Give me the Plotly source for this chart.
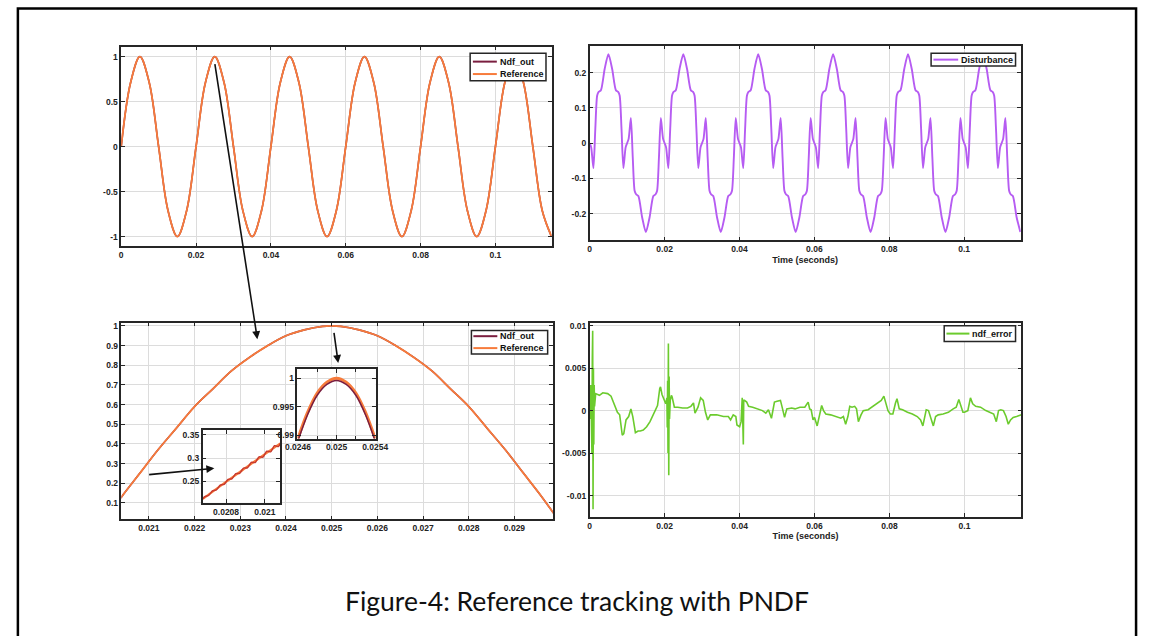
import plotly.graph_objects as go

W, H = 1152, 636

# ---------------- data ----------------
# Top-left: reference sine (Ndf_out overlaps it)
ref_top_t = [0.0000, 0.0025, 0.0050, 0.0075, 0.0100, 0.0125, 0.0150, 0.0175, 0.0200, 0.0225,
             0.0250, 0.0275, 0.0300, 0.0325, 0.0350, 0.0375, 0.0400, 0.0425, 0.0450, 0.0475,
             0.0500, 0.0525, 0.0550, 0.0575, 0.0600, 0.0625, 0.0650, 0.0675, 0.0700, 0.0725,
             0.0750, 0.0775, 0.0800, 0.0825, 0.0850, 0.0875, 0.0900, 0.0925, 0.0950, 0.0975,
             0.1000, 0.1025, 0.1050, 0.1075, 0.1100, 0.1125, 0.1150]
ref_top_v = [0, 0.71, 1, 0.71, 0, -0.71, -1, -0.71,
             0, 0.71, 1, 0.71, 0, -0.71, -1, -0.71,
             0, 0.71, 1, 0.71, 0, -0.71, -1, -0.71,
             0, 0.71, 1, 0.71, 0, -0.71, -1, -0.71,
             0, 0.71, 1, 0.71, 0, -0.71, -1, -0.71,
             0, 0.71, 1, 0.71, 0, -0.71, -1]
ndf_top_v = [0, 0.71, 1, 0.71, 0, -0.71, -1, -0.71,
             0, 0.71, 1, 0.71, 0, -0.71, -1, -0.71,
             0, 0.71, 1, 0.71, 0, -0.71, -1, -0.71,
             0, 0.71, 1, 0.71, 0, -0.71, -1, -0.71,
             0, 0.71, 1, 0.71, 0, -0.71, -1, -0.71,
             0, 0.71, 1, 0.71, 0, -0.71, -1]

# Top-right: disturbance
dist_t = [
    0.0000, 0.0004, 0.0010, 0.0015, 0.0020, 0.0024, 0.0030, 0.0040, 0.0050, 0.0060, 0.0070, 0.0076, 0.0080, 0.0085, 0.0090, 0.0096,
    0.0100, 0.0104, 0.0110, 0.0115, 0.0120, 0.0124, 0.0130, 0.0140, 0.0150, 0.0160, 0.0170, 0.0176, 0.0180, 0.0185, 0.0190, 0.0196,
    0.0200, 0.0204, 0.0210, 0.0215, 0.0220, 0.0224, 0.0230, 0.0240, 0.0250, 0.0260, 0.0270, 0.0276, 0.0280, 0.0285, 0.0290, 0.0296,
    0.0300, 0.0304, 0.0310, 0.0315, 0.0320, 0.0324, 0.0330, 0.0340, 0.0350, 0.0360, 0.0370, 0.0376, 0.0380, 0.0385, 0.0390, 0.0396,
    0.0400, 0.0404, 0.0410, 0.0415, 0.0420, 0.0424, 0.0430, 0.0440, 0.0450, 0.0460, 0.0470, 0.0476, 0.0480, 0.0485, 0.0490, 0.0496,
    0.0500, 0.0504, 0.0510, 0.0515, 0.0520, 0.0524, 0.0530, 0.0540, 0.0550, 0.0560, 0.0570, 0.0576, 0.0580, 0.0585, 0.0590, 0.0596,
    0.0600, 0.0604, 0.0610, 0.0615, 0.0620, 0.0624, 0.0630, 0.0640, 0.0650, 0.0660, 0.0670, 0.0676, 0.0680, 0.0685, 0.0690, 0.0696,
    0.0700, 0.0704, 0.0710, 0.0715, 0.0720, 0.0724, 0.0730, 0.0740, 0.0750, 0.0760, 0.0770, 0.0776, 0.0780, 0.0785, 0.0790, 0.0796,
    0.0800, 0.0804, 0.0810, 0.0815, 0.0820, 0.0824, 0.0830, 0.0840, 0.0850, 0.0860, 0.0870, 0.0876, 0.0880, 0.0885, 0.0890, 0.0896,
    0.0900, 0.0904, 0.0910, 0.0915, 0.0920, 0.0924, 0.0930, 0.0940, 0.0950, 0.0960, 0.0970, 0.0976, 0.0980, 0.0985, 0.0990, 0.0996,
    0.1000, 0.1004, 0.1010, 0.1015, 0.1020, 0.1024, 0.1030, 0.1040, 0.1050, 0.1060, 0.1070, 0.1076, 0.1080, 0.1085, 0.1090, 0.1096,
    0.1100, 0.1104, 0.1110, 0.1115, 0.1120, 0.1124, 0.1130, 0.1140, 0.1150]
dist_v = [
    0.000, -0.012, -0.071, 0.040, 0.135, 0.145, 0.150, 0.210, 0.252, 0.210, 0.150, 0.145, 0.135, 0.040, -0.071, -0.012,
    0.000, 0.012, 0.071, -0.040, -0.135, -0.145, -0.150, -0.210, -0.252, -0.210, -0.150, -0.145, -0.135, -0.040, 0.071, 0.012,
    0.000, -0.012, -0.071, 0.040, 0.135, 0.145, 0.150, 0.210, 0.252, 0.210, 0.150, 0.145, 0.135, 0.040, -0.071, -0.012,
    0.000, 0.012, 0.071, -0.040, -0.135, -0.145, -0.150, -0.210, -0.252, -0.210, -0.150, -0.145, -0.135, -0.040, 0.071, 0.012,
    0.000, -0.012, -0.071, 0.040, 0.135, 0.145, 0.150, 0.210, 0.252, 0.210, 0.150, 0.145, 0.135, 0.040, -0.071, -0.012,
    0.000, 0.012, 0.071, -0.040, -0.135, -0.145, -0.150, -0.210, -0.252, -0.210, -0.150, -0.145, -0.135, -0.040, 0.071, 0.012,
    0.000, -0.012, -0.071, 0.040, 0.135, 0.145, 0.150, 0.210, 0.252, 0.210, 0.150, 0.145, 0.135, 0.040, -0.071, -0.012,
    0.000, 0.012, 0.071, -0.040, -0.135, -0.145, -0.150, -0.210, -0.252, -0.210, -0.150, -0.145, -0.135, -0.040, 0.071, 0.012,
    0.000, -0.012, -0.071, 0.040, 0.135, 0.145, 0.150, 0.210, 0.252, 0.210, 0.150, 0.145, 0.135, 0.040, -0.071, -0.012,
    0.000, 0.012, 0.071, -0.040, -0.135, -0.145, -0.150, -0.210, -0.252, -0.210, -0.150, -0.145, -0.135, -0.040, 0.071, 0.012,
    0.000, -0.012, -0.071, 0.040, 0.135, 0.145, 0.150, 0.210, 0.252, 0.210, 0.150, 0.145, 0.135, 0.040, -0.071, -0.012,
    0.000, 0.012, 0.071, -0.040, -0.135, -0.145, -0.150, -0.210, -0.252]

# Bottom-left: zoom on one peak
zoom_t = [0.0200, 0.0204, 0.0208, 0.0212, 0.0216, 0.0220, 0.0224, 0.0228, 0.0232, 0.0236,
          0.0240, 0.0244, 0.0248, 0.0250, 0.0252, 0.0256, 0.0260, 0.0264, 0.0268, 0.0272,
          0.0276, 0.0280, 0.0284, 0.0288, 0.0292, 0.0296, 0.0300]
zoom_ref_v = [0.00, 0.13, 0.25, 0.37, 0.48, 0.59, 0.68, 0.77, 0.84, 0.90,
              0.95, 0.98, 0.998, 1.00, 0.998, 0.98, 0.95, 0.90, 0.84, 0.77,
              0.68, 0.59, 0.48, 0.37, 0.25, 0.13, 0.00]
zoom_ndf_v = [0.00, 0.13, 0.25, 0.37, 0.48, 0.59, 0.68, 0.77, 0.84, 0.90,
              0.95, 0.98, 0.998, 1.00, 0.998, 0.98, 0.95, 0.90, 0.84, 0.77,
              0.68, 0.59, 0.48, 0.37, 0.25, 0.13, 0.00]

# Inset 1 (rising edge, ripple of Ndf_out)
in1_ndf_t = [0.02068, 0.02069, 0.02070, 0.02071, 0.02072, 0.02073, 0.02074, 0.02075, 0.02076, 0.02077,
             0.02078, 0.02079, 0.02080, 0.02081, 0.02082, 0.02083, 0.02084, 0.02085, 0.02086, 0.02087,
             0.02088, 0.02089, 0.02090, 0.02091, 0.02092, 0.02093, 0.02094, 0.02095, 0.02096, 0.02097,
             0.02098, 0.02099, 0.02100, 0.02101, 0.02102, 0.02103, 0.02104, 0.02105, 0.02106, 0.02107,
             0.02108]
in1_ndf_v = [0.2120, 0.2167, 0.2181, 0.2195, 0.2243, 0.2291, 0.2304, 0.2315, 0.2365, 0.2416,
             0.2426, 0.2434, 0.2486, 0.2540, 0.2547, 0.2553, 0.2607, 0.2663, 0.2667, 0.2670,
             0.2727, 0.2785, 0.2787, 0.2788, 0.2847, 0.2908, 0.2906, 0.2904, 0.2966, 0.3028,
             0.3025, 0.3020, 0.3084, 0.3149, 0.3143, 0.3135, 0.3201, 0.3269, 0.3260, 0.3250,
             0.3318]
in1_ref_t = [0.02068, 0.02078, 0.02088, 0.02098, 0.02108]
in1_ref_v = [0.2120, 0.2426, 0.2727, 0.3025, 0.3318]

# Inset 2 (peak)
in2_t = [0.0246, 0.0247, 0.0248, 0.0249, 0.0250, 0.0251, 0.0252, 0.0253, 0.0254]
in2_ref_v = [0.9894, 0.9940, 0.9974, 0.9993, 1.0000, 0.9993, 0.9974, 0.9940, 0.9894]
in2_ndf_v = [0.9890, 0.9936, 0.9970, 0.9989, 0.9996, 0.9989, 0.9970, 0.9936, 0.9890]

# Bottom-right: tracking error
err_t = [0.0000, 0.0002, 0.0003, 0.0004, 0.0005, 0.0006, 0.0007, 0.0008, 0.0009, 0.0010,
         0.0011, 0.0012, 0.0013, 0.0016, 0.0022, 0.0026, 0.0035, 0.0048, 0.0057, 0.0065,
         0.0074, 0.0080, 0.0087, 0.0091, 0.0097, 0.0104, 0.0110, 0.0115, 0.0122, 0.0129,
         0.0135, 0.0143, 0.0152, 0.0161, 0.0170, 0.0176, 0.0181, 0.0187, 0.0189, 0.0193,
         0.0198, 0.0203, 0.0206, 0.0207, 0.0208, 0.0209, 0.0210, 0.0211, 0.0212, 0.0213,
         0.0215, 0.0218, 0.0220, 0.0226, 0.0235, 0.0248, 0.0261, 0.0270, 0.0277, 0.0281,
         0.0289, 0.0296, 0.0303, 0.0309, 0.0315, 0.0322, 0.0339, 0.0357, 0.0370, 0.0376,
         0.0383, 0.0390, 0.0393, 0.0400, 0.0404, 0.0407, 0.0408, 0.0409, 0.0410, 0.0411,
         0.0413, 0.0419, 0.0424, 0.0435, 0.0448, 0.0461, 0.0470, 0.0477, 0.0485, 0.0493,
         0.0500, 0.0509, 0.0513, 0.0520, 0.0526, 0.0539, 0.0548, 0.0561, 0.0574, 0.0583,
         0.0587, 0.0591, 0.0596, 0.0600, 0.0607, 0.0613, 0.0619, 0.0624, 0.0630, 0.0643,
         0.0657, 0.0670, 0.0677, 0.0683, 0.0689, 0.0694, 0.0700, 0.0707, 0.0712, 0.0717,
         0.0724, 0.0730, 0.0743, 0.0757, 0.0770, 0.0778, 0.0785, 0.0790, 0.0796, 0.0802,
         0.0809, 0.0816, 0.0820, 0.0826, 0.0835, 0.0848, 0.0861, 0.0874, 0.0883, 0.0889,
         0.0894, 0.0898, 0.0904, 0.0911, 0.0917, 0.0923, 0.0930, 0.0943, 0.0957, 0.0970,
         0.0978, 0.0985, 0.0991, 0.0996, 0.1000, 0.1009, 0.1016, 0.1022, 0.1030, 0.1043,
         0.1057, 0.1070, 0.1078, 0.1085, 0.1091, 0.1097, 0.1104, 0.1111, 0.1117, 0.1123,
         0.1130, 0.1139, 0.1148, 0.1152]
err_v = [0.0015, -0.0010, 0.0030, -0.0030, 0.0020, -0.0050, 0.0060, 0.0094, -0.0116, 0.0050,
         -0.0040, 0.0030, 0.0005, 0.0020, 0.0019, 0.0018, 0.0021, 0.0020, 0.0017, 0.0008,
         -0.0002, -0.0005, -0.0029, -0.0027, -0.0011, -0.0007, 0.0002, -0.0007, -0.0026, -0.0024,
         -0.0024, -0.0023, -0.0019, -0.0013, -0.0004, 0.0001, 0.0006, 0.0026, 0.0028, 0.0019,
         0.0013, 0.0008, 0.0015, -0.0020, 0.0035, -0.0050, 0.0079, -0.0076, 0.0040, -0.0010,
         0.0012, 0.0018, 0.0016, 0.0004, 0.0004, 0.0003, 0.0003, 0.0005, 0.0009, -0.0003,
         0.0004, 0.0015, 0.0012, -0.0002, -0.0011, -0.0005, -0.0005, -0.0007, -0.0007, -0.0011,
         -0.0005, -0.0007, -0.0017, -0.0019, -0.0013, 0.0015, -0.0010, 0.0010, -0.0040, 0.0012,
         0.0012, 0.0010, 0.0005, 0.0004, 0.0002, 0.0000, -0.0003, 0.0001, -0.0009, 0.0010,
         0.0011, 0.0012, 0.0005, -0.0008, 0.0002, 0.0003, 0.0002, 0.0004, 0.0004, 0.0010,
         0.0002, 0.0001, -0.0011, -0.0008, -0.0018, -0.0007, 0.0006, 0.0000, -0.0004, -0.0005,
         -0.0007, -0.0009, -0.0007, -0.0016, -0.0007, 0.0005, 0.0004, 0.0005, 0.0002, -0.0013,
         -0.0005, 0.0000, 0.0001, 0.0005, 0.0009, 0.0012, 0.0017, 0.0010, 0.0000, -0.0004,
         -0.0004, 0.0009, 0.0014, 0.0002, 0.0001, -0.0002, -0.0004, -0.0007, -0.0011, -0.0018,
         -0.0005, 0.0001, 0.0000, -0.0011, -0.0018, -0.0007, -0.0005, -0.0004, -0.0002, 0.0002,
         0.0004, 0.0013, 0.0006, -0.0002, -0.0002, 0.0000, 0.0015, 0.0008, 0.0005, 0.0004,
         0.0000, -0.0002, -0.0004, -0.0013, 0.0000, 0.0001, 0.0000, -0.0007, -0.0016, -0.0011,
         -0.0008, -0.0007, -0.0005, -0.0005]

# tick labels
tl_xticks = [0, 0.02, 0.04, 0.06, 0.08, 0.1]
tl_xlabels = ["0", "0.02", "0.04", "0.06", "0.08", "0.1"]
tl_yticks = [-1, -0.5, 0, 0.5, 1]
tl_ylabels = ["-1", "-0.5", "0", "0.5", "1"]
tr_yticks = [-0.2, -0.1, 0, 0.1, 0.2]
tr_ylabels = ["-0.2", "-0.1", "0", "0.1", "0.2"]
bl_xticks = [0.021, 0.022, 0.023, 0.024, 0.025, 0.026, 0.027, 0.028, 0.029]
bl_xlabels = ["0.021", "0.022", "0.023", "0.024", "0.025", "0.026", "0.027", "0.028", "0.029"]
bl_yticks = [0.1, 0.2, 0.3, 0.4, 0.5, 0.6, 0.7, 0.8, 0.9, 1.0]
bl_ylabels = ["0.1", "0.2", "0.3", "0.4", "0.5", "0.6", "0.7", "0.8", "0.9", "1"]
br_yticks = [-0.01, -0.005, 0, 0.005, 0.01]
br_ylabels = ["-0.01", "-0.005", "0", "0.005", "0.01"]
in1_xticks = [0.0208, 0.021]
in1_xlabels = ["0.0208", "0.021"]
in1_yticks = [0.25, 0.3, 0.35]
in1_ylabels = ["0.25", "0.3", "0.35"]
in2_xticks = [0.0246, 0.025, 0.0254]
in2_xlabels = ["0.0246", "0.025", "0.0254"]
in2_yticks = [0.99, 0.995, 1.0]
in2_ylabels = ["0.99", "0.995", "1"]

caption = "Figure-4: Reference tracking with PNDF"

# ---------------- styling ----------------
ORANGE = '#F77B3B'
MAROON = '#7A1E3F'
PURPLE = '#B65CF2'
GREEN = '#6BCB2D'
AXC = '#262626'
GRID = '#DCDCDC'
FONT = 'Liberation Sans, Arial, Helvetica, sans-serif'
TICKFONT = dict(family=FONT, size=8.5, color='#222222', weight='bold')


def X(px):
    return px / W


def Y(py):
    return 1 - py / H


def axis(dom, rng, tv, tt, anchor, title=None, minor=None):
    d = dict(domain=dom, range=rng, tickvals=tv, ticktext=tt, anchor=anchor,
             showline=True, linecolor=AXC, linewidth=1.5, mirror='allticks',
             ticks='inside', ticklen=4, tickwidth=1, tickcolor=AXC,
             showgrid=True, gridcolor=GRID, gridwidth=1, zeroline=False,
             tickfont=TICKFONT, fixedrange=True)
    if title:
        d['title'] = dict(text=title, font=dict(family=FONT, size=9, color='#222222', weight='bold'), standoff=3)
    if minor:
        d['minor'] = minor
    return d


fig = go.Figure()

# top-left
fig.add_trace(go.Scatter(x=ref_top_t, y=ndf_top_v, mode='lines', line=dict(color=MAROON, width=1.6, shape='spline'),
                         xaxis='x', yaxis='y', showlegend=False, name='Ndf_out'))
fig.add_trace(go.Scatter(x=ref_top_t, y=ref_top_v, mode='lines', line=dict(color=ORANGE, width=1.8, shape='spline'),
                         xaxis='x', yaxis='y', showlegend=False, name='Reference'))
# top-right
fig.add_trace(go.Scatter(x=dist_t, y=dist_v, mode='lines', line=dict(color=PURPLE, width=1.9, shape='spline', smoothing=0.7),
                         xaxis='x2', yaxis='y2', showlegend=False, name='Disturbance'))
# bottom-left
fig.add_trace(go.Scatter(x=zoom_t, y=zoom_ndf_v, mode='lines', line=dict(color=MAROON, width=1.6, shape='spline'),
                         xaxis='x3', yaxis='y3', showlegend=False, name='Ndf_out'))
fig.add_trace(go.Scatter(x=zoom_t, y=zoom_ref_v, mode='lines', line=dict(color=ORANGE, width=1.8, shape='spline'),
                         xaxis='x3', yaxis='y3', showlegend=False, name='Reference'))
# bottom-right
fig.add_trace(go.Scatter(x=err_t, y=err_v, mode='lines', line=dict(color=GREEN, width=1.6),
                         xaxis='x4', yaxis='y4', showlegend=False, name='ndf_error'))
# inset 1
fig.add_trace(go.Scatter(x=in1_ref_t, y=in1_ref_v, mode='lines', line=dict(color=ORANGE, width=2.2, shape='spline'),
                         xaxis='x5', yaxis='y5', showlegend=False, name='Reference'))
fig.add_trace(go.Scatter(x=in1_ndf_t, y=in1_ndf_v, mode='lines', line=dict(color='#C8392E', width=1.4, shape='spline'),
                         xaxis='x5', yaxis='y5', showlegend=False, name='Ndf_out'))
# inset 2
fig.add_trace(go.Scatter(x=in2_t, y=in2_ref_v, mode='lines', line=dict(color=ORANGE, width=3, shape='spline'),
                         xaxis='x6', yaxis='y6', showlegend=False, name='Reference'))
fig.add_trace(go.Scatter(x=in2_t, y=in2_ndf_v, mode='lines', line=dict(color=MAROON, width=1.5, shape='spline'),
                         xaxis='x6', yaxis='y6', showlegend=False, name='Ndf_out'))

# panel positions (px)
TL = (110.7, 45, 551, 246)
TR = (590, 44, 1031, 240)
BL = (111, 322.7, 552.3, 520.7)
BR = (590, 322.7, 1031.7, 518.3)
I1 = (194, 430.7, 273.3, 504)
I2 = (291, 369.3, 371, 439.3)


def dx(p):
    return [X(p[0]), X(p[2])]


def dy(p):
    return [Y(p[3]), Y(p[1])]


minor_i2 = dict(tickvals=[0.0248, 0.0252], showgrid=True, gridcolor=GRID, ticks='inside', ticklen=3, tickcolor=AXC)

fig.update_layout(
    width=W, height=H, autosize=False,
    margin=dict(l=0, r=0, t=0, b=0),
    paper_bgcolor='white', plot_bgcolor='white',
    showlegend=False,
    xaxis=axis(dx(TL), [0, 0.115], tl_xticks, tl_xlabels, 'y'),
    yaxis=axis(dy(TL), [-1.11, 1.11], tl_yticks, tl_ylabels, 'x'),
    xaxis2=axis(dx(TR), [0, 0.1151], tl_xticks, tl_xlabels, 'y2', title='Time (seconds)'),
    yaxis2=axis(dy(TR), [-0.276, 0.276], tr_yticks, tr_ylabels, 'x2'),
    xaxis3=axis(dx(BL), [0.0204, 0.02984], bl_xticks, bl_xlabels, 'y3'),
    yaxis3=axis(dy(BL), [0.0156, 1.0167], bl_yticks, bl_ylabels, 'x3'),
    xaxis4=axis(dx(BR), [0, 0.1152], tl_xticks, tl_xlabels, 'y4', title='Time (seconds)'),
    yaxis4=axis(dy(BR), [-0.01253, 0.01035], br_yticks, br_ylabels, 'x4'),
    xaxis5=axis(dx(I1), [0.020679, 0.021079], in1_xticks, in1_xlabels, 'y5'),
    yaxis5=axis(dy(I1), [0.2034, 0.3607], in1_yticks, in1_ylabels, 'x5'),
    xaxis6=axis(dx(I2), [0.024595, 0.025405], in2_xticks, in2_xlabels, 'y6', minor=minor_i2),
    yaxis6=axis(dy(I2), [0.98943, 1.0016], in2_yticks, in2_ylabels, 'x6'),
)

shapes = []
annotations = []

# outer frame
shapes.append(dict(type='rect', xref='paper', yref='paper', x0=X(5), x1=X(1149), y0=Y(645), y1=Y(6.5),
                   line=dict(color='black', width=2.5), fillcolor='rgba(0,0,0,0)', layer='above'))


def legend(box, entries, lx0, lx1, tx):
    x0, y0, x1, y1 = box
    shapes.append(dict(type='rect', xref='paper', yref='paper', x0=X(x0), x1=X(x1), y0=Y(y1), y1=Y(y0),
                       line=dict(color=AXC, width=1.5), fillcolor='white', layer='above'))
    for (name, color, ly) in entries:
        shapes.append(dict(type='line', xref='paper', yref='paper', x0=X(lx0), x1=X(lx1), y0=Y(ly), y1=Y(ly),
                           line=dict(color=color, width=2), layer='above'))
        annotations.append(dict(xref='paper', yref='paper', x=X(tx), y=Y(ly), text=name, showarrow=False,
                                xanchor='left', yanchor='middle',
                                font=dict(family=FONT, size=9, color='#111111', weight='bold')))


legend((467.7, 51.7, 545.3, 79.3), [('Ndf_out', MAROON, 60), ('Reference', ORANGE, 72.5)], 470.5, 495, 496.5)
legend((939.3, 51.7, 1025.7, 64.5), [('Disturbance', PURPLE, 58)], 941.7, 967, 967.5)
legend((469, 330.7, 547, 354.3), [('Ndf_out', MAROON, 336.3), ('Reference', ORANGE, 348.3)], 471, 495.5, 496.5)
legend((952.7, 325.7, 1025.7, 341.7), [('ndf_error', GREEN, 333.7)], 955, 978.5, 979)


def arrow(head, tail):
    annotations.append(dict(xref='paper', yref='paper', x=X(head[0]), y=Y(head[1]),
                            ax=tail[0] - head[0], ay=tail[1] - head[1], text='', showarrow=True,
                            arrowhead=2, arrowsize=1, arrowwidth=1.6, arrowcolor='#111111', standoff=0))


arrow((250, 339.3), (207.3, 62.7))
arrow((206, 469.3), (139.3, 475.7))
arrow((332.7, 363.3), (328.3, 331.7))

annotations.append(dict(xref='paper', yref='paper', x=X(577), y=Y(603), text=caption, showarrow=False,
                        xanchor='center', yanchor='middle',
                        font=dict(family='Lato, Carlito, Open Sans, sans-serif', size=26.5, color='#111111')))

fig.update_layout(shapes=shapes, annotations=annotations)

fig.write_html("out.html", include_plotlyjs=True, config={'displayModeBar': False},
               post_script="document.body.style.margin='0';document.body.style.overflow='hidden';")
